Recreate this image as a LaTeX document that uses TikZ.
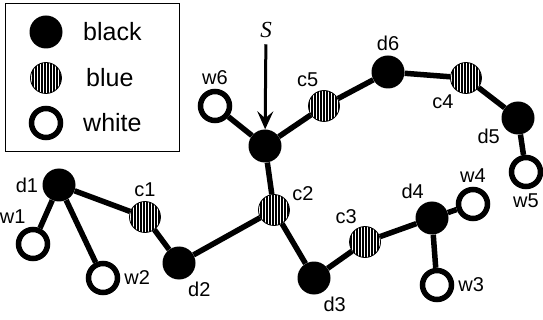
\documentclass[tikz,border=0pt]{standalone}
\usepackage{fontspec}
\setmainfont{Liberation Sans}
\newfontfamily\serifit{Liberation Serif}
\usetikzlibrary{arrows.meta,patterns.meta}

\begin{document}
\begin{tikzpicture}[x=1pt, y=-1pt,
    blk/.style={circle, fill=black, minimum size=33pt, inner sep=0pt},
    blu/.style={circle, draw, line width=0.8pt, minimum size=31pt, inner sep=0pt,
        pattern={Lines[angle=90, distance=3pt, line width=1.1pt]}},
    wht/.style={circle, draw, line width=5.5pt, fill=white, minimum size=29pt, inner sep=0pt},
    bond/.style={line width=5.5pt},
    legtext/.style={anchor=west, inner sep=0pt, font=\fontsize{25}{25}\selectfont},
    every label/.style={font=\fontsize{20}{20}\selectfont, inner sep=1pt},
    label distance=3pt]
    \useasboundingbox (0,0) rectangle (543,320);

    % Legend
    \draw[line width=1pt] (5,4) rectangle (179,152);
    \node[blk] (kblack) at (46,32) {};
    \node[legtext] (tblack) at (83,32) {black};
    \node[blu] (kblue) at (46,78) {};
    \node[legtext] (tblue) at (86,78) {blue};
    \node[wht] (kwhite) at (46,123) {};
    \node[legtext] (twhite) at (83,123) {white};

    % Source
    \node[font=\serifit\itshape\fontsize{23}{23}\selectfont] (S) at (266,30) {S};

    % Left part
    \node[blk, label=left:d1] (d1) at (59,185) {};
    \node[wht, label={108:w1}] (w1) at (33,244) {};
    \node[wht, label=right:w2] (w2) at (103,278) {};
    \node[blu, label=above:c1] (c1) at (145,217) {};
    \node[blk, label={-66:d2}] (d2) at (179,263) {};
    \node[blu, label={25:c2}] (c2) at (274,210) {};

    % Centre
    \node[blk] (j) at (265,146) {};
    \node[wht, label=above:w6] (w6) at (215,106) {};
    \node[blu, label={104:c5}] (c5) at (324,106) {};
    \node[blk, label=above:d6] (d6) at (388,72) {};
    \node[blu, label={-127:c4}] (c4) at (466,78) {};
    \node[blk, label={-150:d5}] (d5) at (518,118) {};
    \node[wht, label=below:w5] (w5) at (526,172) {};

    % Right part
    \node[blk, label={-65:d3}] (d3) at (314,278) {};
    \node[blu, label={112:c3}] (c3) at (365,242) {};
    \node[blk, label={111:d4}] (d4) at (432,218) {};
    \node[wht, label=above:w4] (w4) at (473,204) {};
    \node[wht, label=right:w3] (w3) at (437,285) {};

    % Bonds
    \foreach \a/\b in {d1/w1, d1/w2, d1/c1, c1/d2, d2/c2, c2/j, c2/d3, d3/c3, c3/d4,
        d4/w4, d4/w3, j/w6, j/c5, c5/d6, d6/c4, c4/d5, d5/w5}
        \draw[bond] (\a) -- (\b);

    \draw[line width=3pt, shorten <=3pt, -{Stealth[length=18pt, width=16pt, inset=7pt]}] (S) -- (j);
\end{tikzpicture}
\end{document}
